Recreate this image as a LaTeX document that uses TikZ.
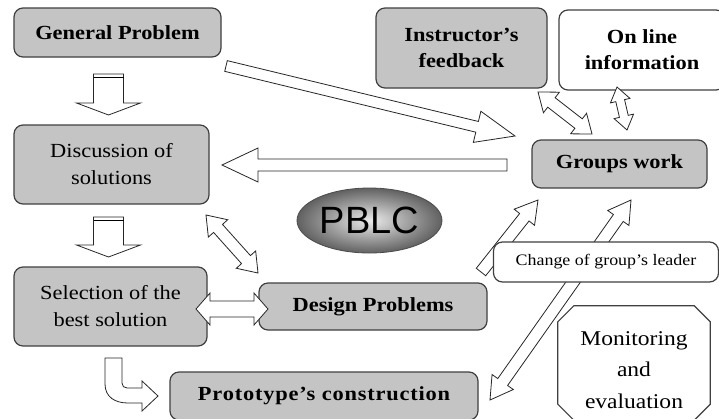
\documentclass[tikz,border=0pt]{standalone}
\usepackage{fontspec}
\setmainfont{Liberation Serif}[FakeStretch=1.12]
\newfontfamily\pblcfont{Liberation Sans}
\usetikzlibrary{calc,shapes.geometric}

\tikzset{
  graybox/.style={draw=black!75, line width=1.2pt, fill=black!23, rounded corners=9pt,
    inner sep=0pt, align=center},
  whitebox/.style={graybox, fill=white},
  octo/.style={draw=black!75, line width=1.2pt, fill=white},
  blockarrow/.style={draw=black!85, line width=0.8pt, fill=white, line join=miter},
  boldtxt/.style={font=\bfseries\fontsize{20}{26}\selectfont},
  normtxt/.style={font=\fontsize{20}{27}\selectfont},
}

% single block arrow: [style]{from}{to}{shaft half}{head half}{head length}
\newcommand\blkarrow[6][]{%
  \coordinate (BAs) at (#2); \coordinate (BAe) at (#3);
  \coordinate (BAh) at ($(BAe)!#6!(BAs)$);
  \draw[blockarrow,#1] ($(BAs)!#4!90:(BAe)$) -- ($(BAh)!#4!-90:(BAs)$)
    -- ($(BAh)!#5!-90:(BAs)$) -- (BAe) -- ($(BAh)!#5!90:(BAs)$)
    -- ($(BAh)!#4!90:(BAs)$) -- ($(BAs)!#4!-90:(BAe)$) -- cycle;
}
% double block arrow
\newcommand\dblarrow[6][]{%
  \coordinate (BAs) at (#2); \coordinate (BAe) at (#3);
  \coordinate (BAh) at ($(BAe)!#6!(BAs)$);
  \coordinate (BAt) at ($(BAs)!#6!(BAe)$);
  \draw[blockarrow,#1] (BAs) -- ($(BAt)!#5!90:(BAe)$) -- ($(BAt)!#4!90:(BAe)$)
    -- ($(BAh)!#4!-90:(BAs)$) -- ($(BAh)!#5!-90:(BAs)$) -- (BAe)
    -- ($(BAh)!#5!90:(BAs)$) -- ($(BAh)!#4!90:(BAs)$)
    -- ($(BAt)!#4!-90:(BAe)$) -- ($(BAt)!#5!-90:(BAe)$) -- cycle;
}

\begin{document}
\begin{tikzpicture}[x=1pt,y=-1pt]
\useasboundingbox (0,0) rectangle (719,418);
\clip (0,0) rectangle (719,418);
\fill[white] (0,0) rectangle (719,418);

% ---- boxes ----
\node[graybox,boldtxt,minimum width=207pt,minimum height=49pt] (gp) at (117.5,32.5) {General Problem};
\node[graybox,normtxt,minimum width=195pt,minimum height=79pt] (disc) at (111.5,164.5) {Discussion of\\solutions};
\node[graybox,normtxt,minimum width=193pt,minimum height=79pt] (sel) at (110.5,306.5) {Selection of the\\best solution};
\node[graybox,boldtxt,minimum width=228pt,minimum height=47pt] (des) at (373,306.5) {Design Problems};
\node[graybox,boldtxt,minimum width=308pt,minimum height=48pt] (proto) at (324,396) {\addfontfeature{LetterSpace=4}Prototype’s construction};
\node[graybox,boldtxt,minimum width=171pt,minimum height=80pt] (instr) at (461.5,48) {Instructor’s\\feedback};
\node[whitebox,boldtxt,minimum width=166pt,minimum height=80pt] (online) at (642,50) {On line\\information};
\node[graybox,boldtxt,minimum width=175pt,minimum height=48pt] (groups) at (619.5,164) {Groups work};

% PBLC ellipse
\node[ellipse, draw=black!70, line width=0.8pt, inner color=black!8, outer color=black!62,
  minimum width=145pt, minimum height=65pt, inner sep=0pt, font=\pblcfont\fontsize{38}{38}\selectfont]
  (pblc) at (369.5,220.5) {PBLC};

% Monitoring octagon
\node[minimum width=152pt, minimum height=114pt, inner sep=0pt] (mon) at (634,363) {};
\draw[octo] ($(mon.north west)+(0,16)$) -- ($(mon.north west)+(16,0)$)
  -- ($(mon.north east)+(-16,0)$) -- ($(mon.north east)+(0,16)$)
  -- ($(mon.south east)+(0,-16)$) -- ($(mon.south east)+(-16,0)$)
  -- ($(mon.south west)+(16,0)$) -- ($(mon.south west)+(0,-16)$) -- cycle;
\node[font=\fontsize{21}{31.5}\selectfont, align=center] (montext) at ($(mon.center)+(0,7)$)
  {Monitoring\\and\\evaluation};

% ---- block arrows ----
% down arrows
\coordinate (d1s) at (108.5,74); \coordinate (d1e) at (108.5,115);
\blkarrow{d1s}{d1e}{15pt}{32pt}{12pt}
\draw[line width=0.8pt] (93.5,77.5) -- (123.5,77.5);
\coordinate (d2s) at (108.5,217); \coordinate (d2e) at (108.5,257);
\blkarrow{d2s}{d2e}{15pt}{32pt}{12pt}
\draw[line width=0.8pt] (93.5,220.5) -- (123.5,220.5);

% curved arrow selection -> prototype
\draw[blockarrow] (105,358) -- (105,384) .. controls (105,397) and (115,403) .. (128,403)
  -- (142,403) -- (142,411) -- (158,396) -- (142,381) -- (142,388) -- (127,388)
  .. controls (124,388) and (122,386) .. (122,383) -- (122,358) -- cycle;

% general problem -> groups work
\coordinate (a1s) at (226,66); \coordinate (a1e) at (515,136);
\blkarrow{a1s}{a1e}{5.5pt}{16pt}{39pt}
% groups work -> discussion
\coordinate (a2s) at (507,165); \coordinate (a2e) at (222,165);
\blkarrow{a2s}{a2e}{6pt}{17pt}{36pt}
% instructor <-> groups
\coordinate (a3s) at (538,92); \coordinate (a3e) at (592,134);
\dblarrow{a3s}{a3e}{6pt}{13pt}{17pt}
% online <-> groups
\coordinate (a4s) at (617,87); \coordinate (a4e) at (627,130);
\dblarrow{a4s}{a4e}{4.5pt}{10pt}{14pt}
% discussion <-> design
\coordinate (a5s) at (206,215); \coordinate (a5e) at (258,273);
\dblarrow{a5s}{a5e}{6pt}{13pt}{18pt}
% selection <-> design
\coordinate (a6s) at (196,309); \coordinate (a6e) at (268,309);
\dblarrow{a6s}{a6e}{8pt}{16pt}{14pt}
% upward arrow to groups work
\coordinate (a7s) at (481,272); \coordinate (a7e) at (538,200);
\blkarrow{a7s}{a7e}{6pt}{13pt}{22pt}
% prototype <-> groups work
\coordinate (a8s) at (490,400); \coordinate (a8e) at (631,200);
\dblarrow{a8s}{a8e}{6pt}{13pt}{22pt}

% change of leader box (over the arrow)
\node[whitebox, font=\fontsize{16}{20}\selectfont, minimum width=225pt, minimum height=40pt]
  (change) at (606,262) {Change of group’s leader};
\end{tikzpicture}
\end{document}
